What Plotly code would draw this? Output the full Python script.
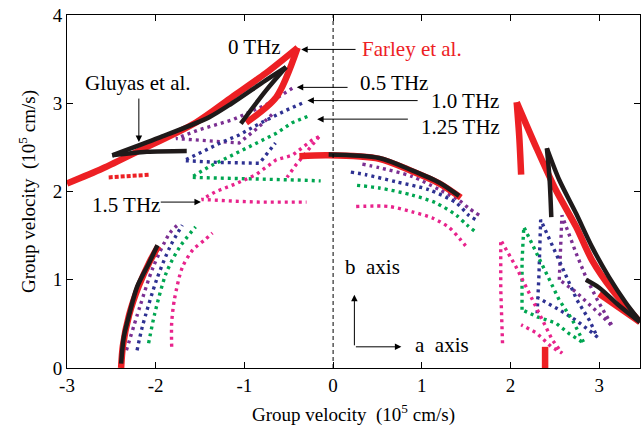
import plotly.graph_objects as go

# ---------------- data (units 1e5 cm/s) ----------------
x_ticks = [-3, -2, -1, 0, 1, 2, 3]
x_tick_text = ["-3", "-2", "-1", "0", "1", "2", "3"]
y_ticks = [0, 1, 2, 3, 4]

# Farley et al. (red, 0 THz)
far_ul_x = [-3.0, -2.6, -2.19, -1.55, -1.14, -0.76, -0.40]
far_ul_y = [2.09, 2.26, 2.46, 2.78, 3.07, 3.34, 3.63]
far_cusp_x = [-0.40, -0.64, -0.98]
far_cusp_y = [3.63, 3.07, 2.78]
far_bit_x = [-2.53, -2.3, -2.07]
far_bit_y = [2.16, 2.18, 2.19]
far_mid_x = [-0.38, -0.05, 0.52, 0.89, 1.2, 1.44]
far_mid_y = [2.40, 2.41, 2.37, 2.23, 2.09, 1.93]
far_r_x = [2.07, 2.29, 2.51, 2.74, 2.92, 3.15, 3.46]
far_r_y = [3.01, 2.50, 2.02, 1.60, 1.22, 0.88, 0.52]
far_rcusp_x = [2.07, 2.10, 2.12]
far_rcusp_y = [3.01, 2.60, 2.19]
far_rlow_x = [3.0, 3.46]
far_rlow_y = [0.84, 0.52]
far_stub_x = [2.39, 2.39]
far_stub_y = [0.24, 0.0]
far_ll_x = [-2.39, -2.37, -2.30, -2.19, -2.07, -1.97]
far_ll_y = [0.0, 0.25, 0.60, 0.93, 1.20, 1.38]

# Gluyas et al. (black)
glu_ul_x = [-2.49, -1.96, -1.40, -1.14, -0.76, -0.53]
glu_ul_y = [2.41, 2.61, 2.84, 3.00, 3.26, 3.41]
glu_cusp_x = [-0.53, -0.76, -1.04]
glu_cusp_y = [3.41, 3.14, 2.77]
glu_bar_x = [-2.49, -2.1, -1.65]
glu_bar_y = [2.41, 2.45, 2.46]
glu_mid_x = [-0.05, 0.52, 0.89, 1.2, 1.42]
glu_mid_y = [2.42, 2.38, 2.24, 2.10, 1.95]
glu_r_x = [2.41, 2.55, 2.74, 2.92, 3.11, 3.30, 3.46]
glu_r_y = [2.49, 2.13, 1.75, 1.37, 1.03, 0.74, 0.53]
glu_rcusp_x = [2.41, 2.44, 2.46]
glu_rcusp_y = [2.49, 2.15, 1.71]
glu_rlow_x = [2.85, 3.0, 3.22, 3.46]
glu_rlow_y = [1.0, 0.91, 0.71, 0.52]
glu_ll_x = [-2.39, -2.36, -2.30, -2.21, -2.08, -1.98]
glu_ll_y = [0.05, 0.35, 0.60, 0.92, 1.18, 1.39]

# 0.5 THz (purple)
p05_ul_x = [-0.46, -0.76, -1.14, -1.51, -1.77, -1.40, -1.06, -0.85, -0.66]
p05_ul_y = [3.17, 2.98, 2.81, 2.70, 2.60, 2.57, 2.55, 2.72, 2.90]
p05_mid_x = [0.33, 0.52, 0.89, 1.2, 1.42, 1.53, 1.65]
p05_mid_y = [2.31, 2.27, 2.17, 2.02, 1.90, 1.81, 1.73]
p05_ll_x = [-2.33, -2.18, -2.03, -1.84, -1.73]
p05_ll_y = [0.20, 0.69, 1.14, 1.53, 1.64]
p05_r_x = [2.55, 2.57, 2.58, 2.74, 2.85, 2.98, 3.15, 3.08, 2.92, 2.74, 2.55]
p05_r_y = [1.00, 1.45, 1.73, 1.30, 1.03, 0.77, 0.47, 0.54, 0.69, 0.86, 1.00]

# 1.0 THz (blue)
p10_ul_x = [-0.35, -0.53, -0.83, -1.06, -1.25, -1.43, -1.68, -1.3, -0.83, -0.65]
p10_ul_y = [3.00, 2.92, 2.77, 2.64, 2.56, 2.47, 2.35, 2.33, 2.32, 2.55]
p10_mid_x = [0.2, 0.37, 0.71, 1.08, 1.39, 1.53, 1.61]
p10_mid_y = [2.22, 2.19, 2.11, 2.02, 1.87, 1.73, 1.68]
p10_ll_x = [-2.21, -2.15, -1.99, -1.84, -1.70]
p10_ll_y = [0.20, 0.47, 1.00, 1.37, 1.62]
p10_r_x = [2.30, 2.32, 2.34, 2.51, 2.64, 2.75, 2.89, 2.98, 2.92, 2.74, 2.55, 2.30]
p10_r_y = [0.62, 1.03, 1.68, 1.30, 1.03, 0.77, 0.54, 0.35, 0.40, 0.54, 0.66, 0.80]

# 1.25 THz (green)
p125_ul_x = [-0.29, -0.46, -0.64, -1.17, -1.40, -1.60, -1.2, -0.83, -0.40, -0.14]
p125_ul_y = [2.85, 2.78, 2.66, 2.39, 2.28, 2.16, 2.15, 2.15, 2.13, 2.12]
p125_mid_x = [0.27, 0.52, 0.89, 1.16, 1.39, 1.51, 1.61]
p125_mid_y = [2.07, 2.04, 1.96, 1.87, 1.73, 1.62, 1.54]
p125_ll_x = [-2.08, -2.01, -1.88, -1.73, -1.55]
p125_ll_y = [0.28, 0.62, 1.08, 1.37, 1.60]
p125_r_x = [2.13, 2.13, 2.15, 2.31, 2.44, 2.55, 2.70, 2.83, 2.66, 2.51, 2.30, 2.13]
p125_r_y = [0.66, 1.20, 1.60, 1.26, 1.00, 0.77, 0.54, 0.28, 0.39, 0.51, 0.58, 0.66]

# 1.5 THz (pink)
p15_ul_x = [-0.16, -0.24, -0.46, -0.64, -0.87, -1.09, -1.32, -1.48, -1.1, -0.83, -0.30]
p15_ul_y = [2.62, 2.58, 2.41, 2.36, 2.19, 2.09, 2.00, 1.91, 1.89, 1.88, 1.88]
p15_in_x = [-0.16, -0.30, -0.42, -0.52]
p15_in_y = [2.62, 2.45, 2.30, 2.16]
p15_mid_x = [0.26, 0.63, 0.89, 1.12, 1.31, 1.44, 1.52]
p15_mid_y = [1.83, 1.83, 1.77, 1.70, 1.59, 1.45, 1.35]
p15_ll_x = [-1.82, -1.82, -1.79, -1.70, -1.58, -1.45, -1.36]
p15_ll_y = [0.24, 0.51, 0.77, 1.14, 1.34, 1.45, 1.53]
p15_r_x = [1.91, 1.89, 1.89, 2.06, 2.21, 2.34, 2.47, 2.58, 2.46, 2.29, 2.12]
p15_r_y = [0.28, 0.90, 1.45, 1.15, 0.85, 0.58, 0.32, 0.17, 0.24, 0.40, 0.49]

RED = "#ed2024"
BLACK = "#1f1a1a"
PURPLE = "#7b2f92"
BLUE = "#2e3192"
GREEN = "#00a651"
PINK = "#e8238c"

fig = go.Figure()


def line(x, y, color, width, dash="solid", shape="linear"):
    fig.add_trace(go.Scatter(x=x, y=y, mode="lines", hoverinfo="skip",
                             line=dict(color=color, width=width, dash=dash, shape=shape,
                                       smoothing=0.8),
                             showlegend=False))


DOT = "3px,4px"
# dotted computed curves: wedge/loop shapes stay piecewise, arcs are smoothed
for (cx, cy, col, shp) in [
    (p05_ul_x, p05_ul_y, PURPLE, "linear"), (p05_mid_x, p05_mid_y, PURPLE, "spline"),
    (p05_ll_x, p05_ll_y, PURPLE, "spline"), (p05_r_x, p05_r_y, PURPLE, "linear"),
    (p10_ul_x, p10_ul_y, BLUE, "linear"), (p10_mid_x, p10_mid_y, BLUE, "spline"),
    (p10_ll_x, p10_ll_y, BLUE, "spline"), (p10_r_x, p10_r_y, BLUE, "linear"),
    (p125_ul_x, p125_ul_y, GREEN, "linear"), (p125_mid_x, p125_mid_y, GREEN, "spline"),
    (p125_ll_x, p125_ll_y, GREEN, "spline"), (p125_r_x, p125_r_y, GREEN, "linear"),
    (p15_ul_x, p15_ul_y, PINK, "linear"), (p15_in_x, p15_in_y, PINK, "linear"),
    (p15_mid_x, p15_mid_y, PINK, "spline"), (p15_ll_x, p15_ll_y, PINK, "spline"),
    (p15_r_x, p15_r_y, PINK, "linear"),
]:
    line(cx, cy, col, 3.4, DOT, shp)

# Farley (red)
for (cx, cy) in [(far_ul_x, far_ul_y), (far_cusp_x, far_cusp_y), (far_mid_x, far_mid_y),
                 (far_r_x, far_r_y), (far_rcusp_x, far_rcusp_y), (far_rlow_x, far_rlow_y),
                 (far_stub_x, far_stub_y), (far_ll_x, far_ll_y)]:
    line(cx, cy, RED, 6.5, "solid", "spline")
line(far_bit_x, far_bit_y, RED, 4, "4px,2px")

# Gluyas (black)
for (cx, cy) in [(glu_ul_x, glu_ul_y), (glu_cusp_x, glu_cusp_y), (glu_bar_x, glu_bar_y),
                 (glu_mid_x, glu_mid_y), (glu_r_x, glu_r_y), (glu_rcusp_x, glu_rcusp_y),
                 (glu_rlow_x, glu_rlow_y), (glu_ll_x, glu_ll_y)]:
    line(cx, cy, BLACK, 4.5, "solid", "spline")

FONT = "Liberation Serif"

# dashed vertical line at 0
fig.add_shape(type="line", x0=0, x1=0, y0=0, y1=4, xref="x", yref="y",
              line=dict(color="black", width=1, dash="4px,3px"))

ann = []


def arrow(hx, hy, tx, ty):
    ann.append(dict(x=hx, y=hy, ax=tx, ay=ty, xref="x", yref="y", axref="x", ayref="y",
                    text="", showarrow=True, arrowhead=2, arrowsize=1.3, arrowwidth=1,
                    arrowcolor="black"))


def label(x, y, t, color="black", size=21):
    ann.append(dict(x=x, y=y, xref="x", yref="y", text=t, showarrow=False,
                    font=dict(family=FONT, size=size, color=color)))


arrow(-0.36, 3.61, 0.27, 3.61)
label(-0.89, 3.64, "0 THz")
ann.append(dict(x=0.30, y=3.61, xref="x", yref="y", text="Farley et al.", showarrow=False,
                xanchor="left", font=dict(family=FONT, size=21, color=RED)))
arrow(-0.41, 3.18, 0.18, 3.18)
label(0.69, 3.23, "0.5 THz")
arrow(-0.29, 3.03, 0.97, 3.03)
label(1.49, 3.03, "1.0 THz")
arrow(-0.18, 2.82, 0.86, 2.82)
label(1.44, 2.73, "1.25 THz")
arrow(-2.19, 2.56, -2.19, 3.07)
label(-2.2, 3.23, "Gluyas et al.")
arrow(-1.49, 1.88, -1.96, 1.88)
label(-2.33, 1.85, "1.5 THz")
label(0.44, 1.14, "b  axis")
label(1.23, 0.26, "a  axis")
arrow(0.24, 0.83, 0.24, 0.24)
arrow(0.77, 0.24, 0.24, 0.24)

axis_common = dict(showline=True, linecolor="black", linewidth=1, mirror="allticks",
                   ticks="inside", ticklen=6, tickcolor="black", showgrid=False,
                   zeroline=False, automargin=False, ticklabeloverflow="allow",
                   tickfont=dict(family=FONT, size=19, color="black"))

fig.update_layout(
    width=641, height=428,
    margin=dict(l=67, r=1, t=15, b=60),
    paper_bgcolor="white", plot_bgcolor="white",
    font=dict(family=FONT),
    annotations=ann,
    xaxis=dict(range=[-3, 3.46], tickvals=x_ticks, ticktext=x_tick_text,
               title=dict(text="Group velocity  (10<sup>5</sup> cm/s)", standoff=12,
                          font=dict(family=FONT, size=19, color="black")),
               **axis_common),
    yaxis=dict(range=[0, 4], tickvals=y_ticks,
               title=dict(text="Group velocity  (10<sup>5</sup> cm/s)", standoff=12,
                          font=dict(family=FONT, size=19, color="black")),
               **axis_common),
)

# remove the browser's default page margin so the figure sits at the window corner
fig.write_html("out.html", config={"displayModeBar": False},
               post_script="document.body.style.margin='0px';document.body.style.overflow='hidden';")
